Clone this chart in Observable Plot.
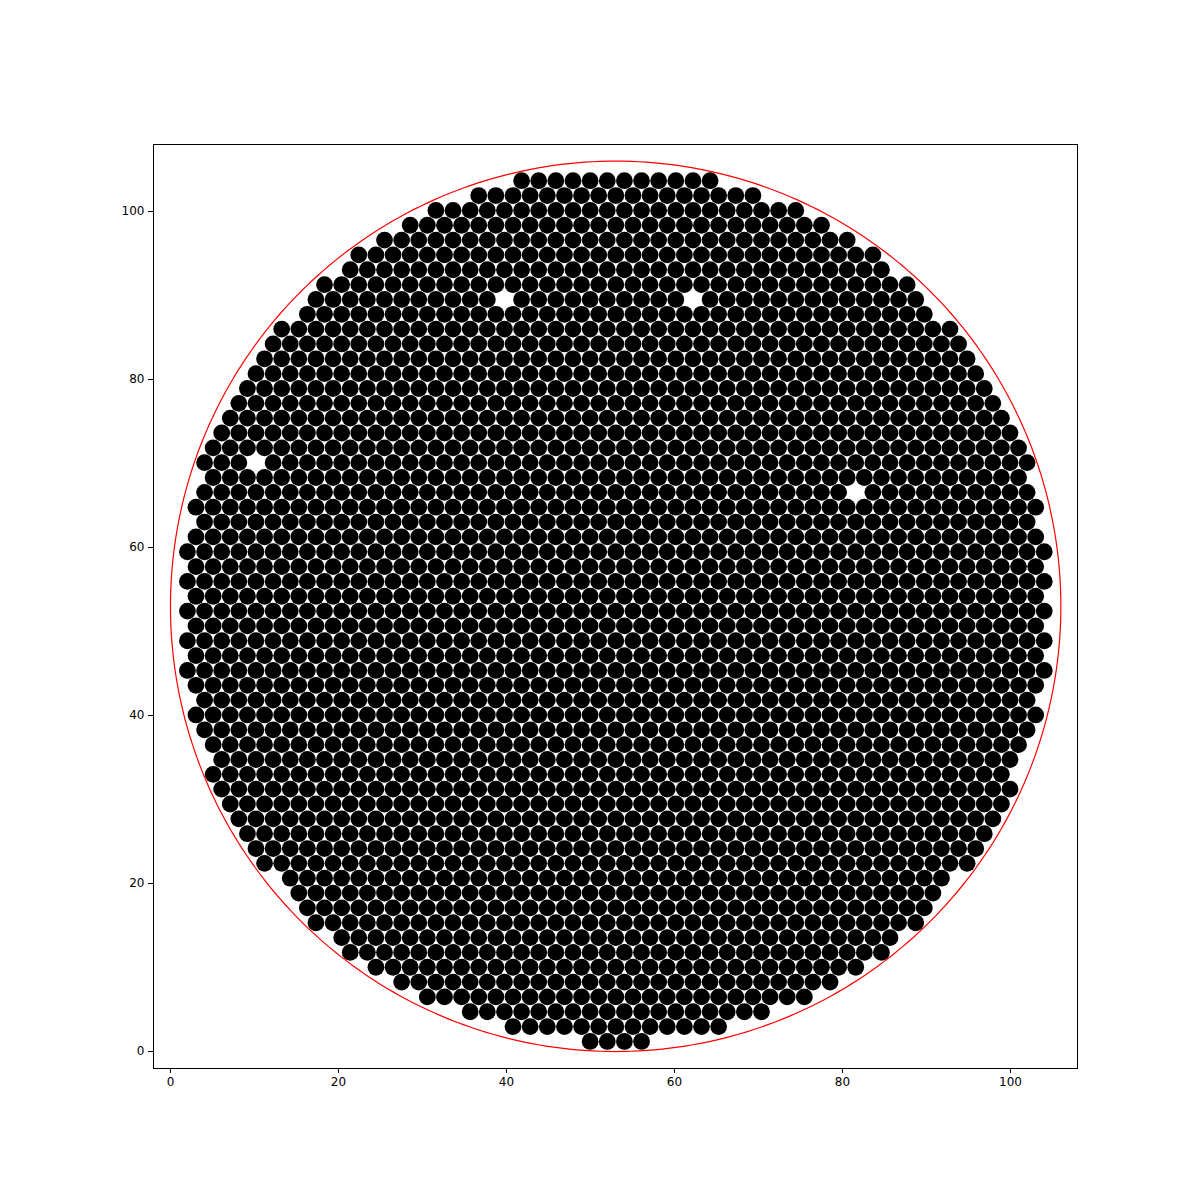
<!DOCTYPE html>
<html><head><meta charset="utf-8">
<script src="https://cdn.jsdelivr.net/npm/d3@7"></script>
<script src="https://cdn.jsdelivr.net/npm/@observablehq/plot@0.6"></script>
<style>body{margin:0;background:#fff}</style>
</head><body><div id="chart"></div>
<script>
// Container circle
const containerCenter = [53, 53];
const containerRadius = 53;
// Packed particles: approximately hexagonal grains of unit-radius discs
const particleSpacing = 2.04;
const particleRadius = 1.0;
const xTicks = [0, 20, 40, 60, 80, 100];
const yTicks = [0, 20, 40, 60, 80, 100];
// Visible voids in the packing (x, y)
const voids = [[63,90],[82,66.5],[11,70],[39,90]];

const rowStep = particleSpacing * Math.sqrt(3) / 2;
const particles = [];
for (let j = 0; ; j++) {
  const y = 1.2 + j * rowStep;
  if (y > 105) break;
  const off = (j % 2) * particleSpacing / 2;
  for (let x = 1 + off; x < 106; x += particleSpacing) {
    const dx = x - containerCenter[0], dy = y - containerCenter[1];
    if (Math.hypot(dx, dy) > containerRadius - particleRadius - 0.05) continue;
    if (voids.some(([vx, vy]) => Math.hypot(x - vx, y - vy) < 1.0)) continue;
    particles.push({x, y});
  }
}
const ring = d3.range(0, 361, 1).map(a => ({
  x: containerCenter[0] + containerRadius * Math.cos(a * Math.PI / 180),
  y: containerCenter[1] + containerRadius * Math.sin(a * Math.PI / 180)
}));

const k = 8.4; // px per unit
const chart = Plot.plot({
  width: 1200, height: 1200,
  marginLeft: 153, marginRight: 123, marginTop: 144, marginBottom: 132,
  style: {fontFamily: "DejaVu Sans", fontSize: "12px", color: "black"},
  x: {domain: [-2.02, 107.98], ticks: xTicks, tickSize: 5, label: null},
  y: {domain: [-2.02, 107.98], ticks: yTicks, tickSize: 5, label: null},
  marks: [
    Plot.dot(particles, {x: "x", y: "y", r: particleRadius * k, fill: "black", stroke: "none"}),
    Plot.line(ring, {x: "x", y: "y", stroke: "red", strokeWidth: 1.2}),
    Plot.frame({stroke: "black"})
  ]
});
document.getElementById("chart").appendChild(chart);
</script>
</body></html>
